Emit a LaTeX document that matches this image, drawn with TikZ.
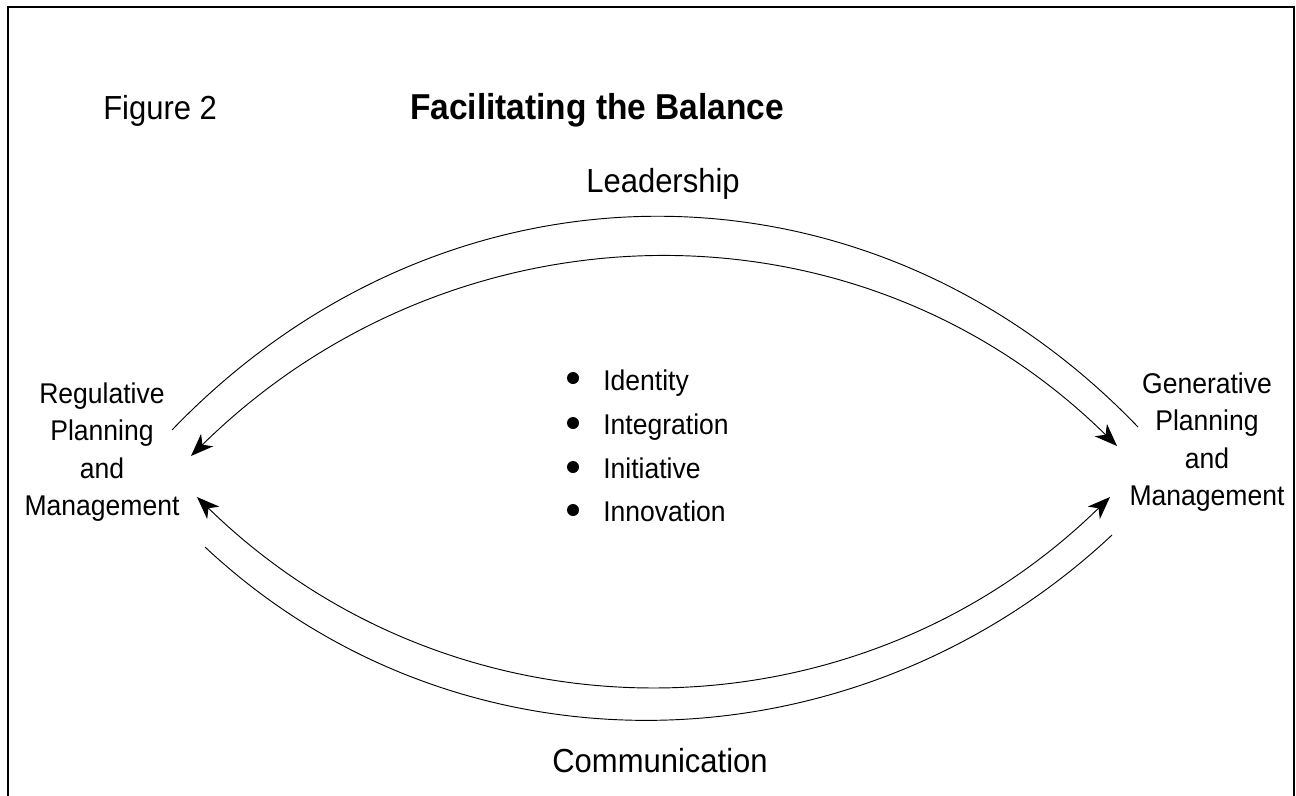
\documentclass[tikz,border=0pt]{standalone}
\usepackage{fontspec}
\setmainfont{Liberation Sans}[FakeStretch=0.93]
\usetikzlibrary{arrows.meta}

\tikzset{
  frameline/.style={line width=1.5pt, line cap=rect},
  arcline/.style={line width=0.7pt},
  tip/.style={Stealth[length=17pt,width=13pt,inset=5pt]},
  twoway/.style={arcline, {Stealth[length=17pt,width=13pt,inset=5pt]}-{Stealth[length=17pt,width=13pt,inset=5pt]}},
  sidelabel/.style={inner sep=0pt, align=center, font={\fontsize{21.4}{28}\selectfont}},
  biglabel/.style={inner sep=0pt, anchor=base, font={\fontsize{25}{30}\selectfont}},
  itemtext/.style={inner sep=0pt, anchor=base west, font={\fontsize{21.4}{28}\selectfont}},
  dot/.style={circle, fill=black, inner sep=0pt, minimum size=9pt}
}

\begin{document}
\begin{tikzpicture}[x=0.75pt, y=-0.75pt]
\useasboundingbox (0,0) rectangle (1296,796);

% open frame: left, top and right sides
\draw[frameline] (8,796) -- (8,7) -- (1294,7) -- (1294,796);

% headings
\node[biglabel, anchor=base west] (fig) at (103,119) {Figure 2};
\node[biglabel, font={\fontsize{27}{32}\bfseries\selectfont}] (title) at (597,119) {Facilitating the Balance};
\node[biglabel] (lead) at (663,192) {Leadership};
\node[biglabel] (comm) at (660,772) {Communication};

% side labels
\node[sidelabel] (reg) at (102,452) {Regulative\\Planning\\and\\Management};
\node[sidelabel] (gen) at (1207,442) {Generative\\Planning\\and\\Management};

% the four I's
\node[dot] (d1) at (573,378) {};
\node[dot] (d2) at (573,423) {};
\node[dot] (d3) at (573,467) {};
\node[dot] (d4) at (573,510) {};
\node[itemtext] (i1) at (603,390) {Identity};
\node[itemtext] (i2) at (603,434) {Integration};
\node[itemtext] (i3) at (603,478) {Initiative};
\node[itemtext] (i4) at (603,521) {Innovation};

% arc end points
\coordinate (otL) at (172,430);
\coordinate (otR) at (1138,427);
\coordinate (itL) at (191,456);
\coordinate (itR) at (1117,446);
\coordinate (ibL) at (197,497);
\coordinate (ibR) at (1110,497);
\coordinate (obL) at (205,547);
\coordinate (obR) at (1112,535);

% upper arcs
\draw[arcline] (otL) .. controls (444,147) and (866,144) .. (otR);
\draw[twoway] (itL) .. controls (452,199) and (856,189) .. (itR);

% lower arcs
\draw[twoway] (ibL) .. controls (454,748) and (853,748) .. (ibR);
\draw[arcline] (obL) .. controls (460,786) and (857,774) .. (obR);
\end{tikzpicture}
\end{document}
